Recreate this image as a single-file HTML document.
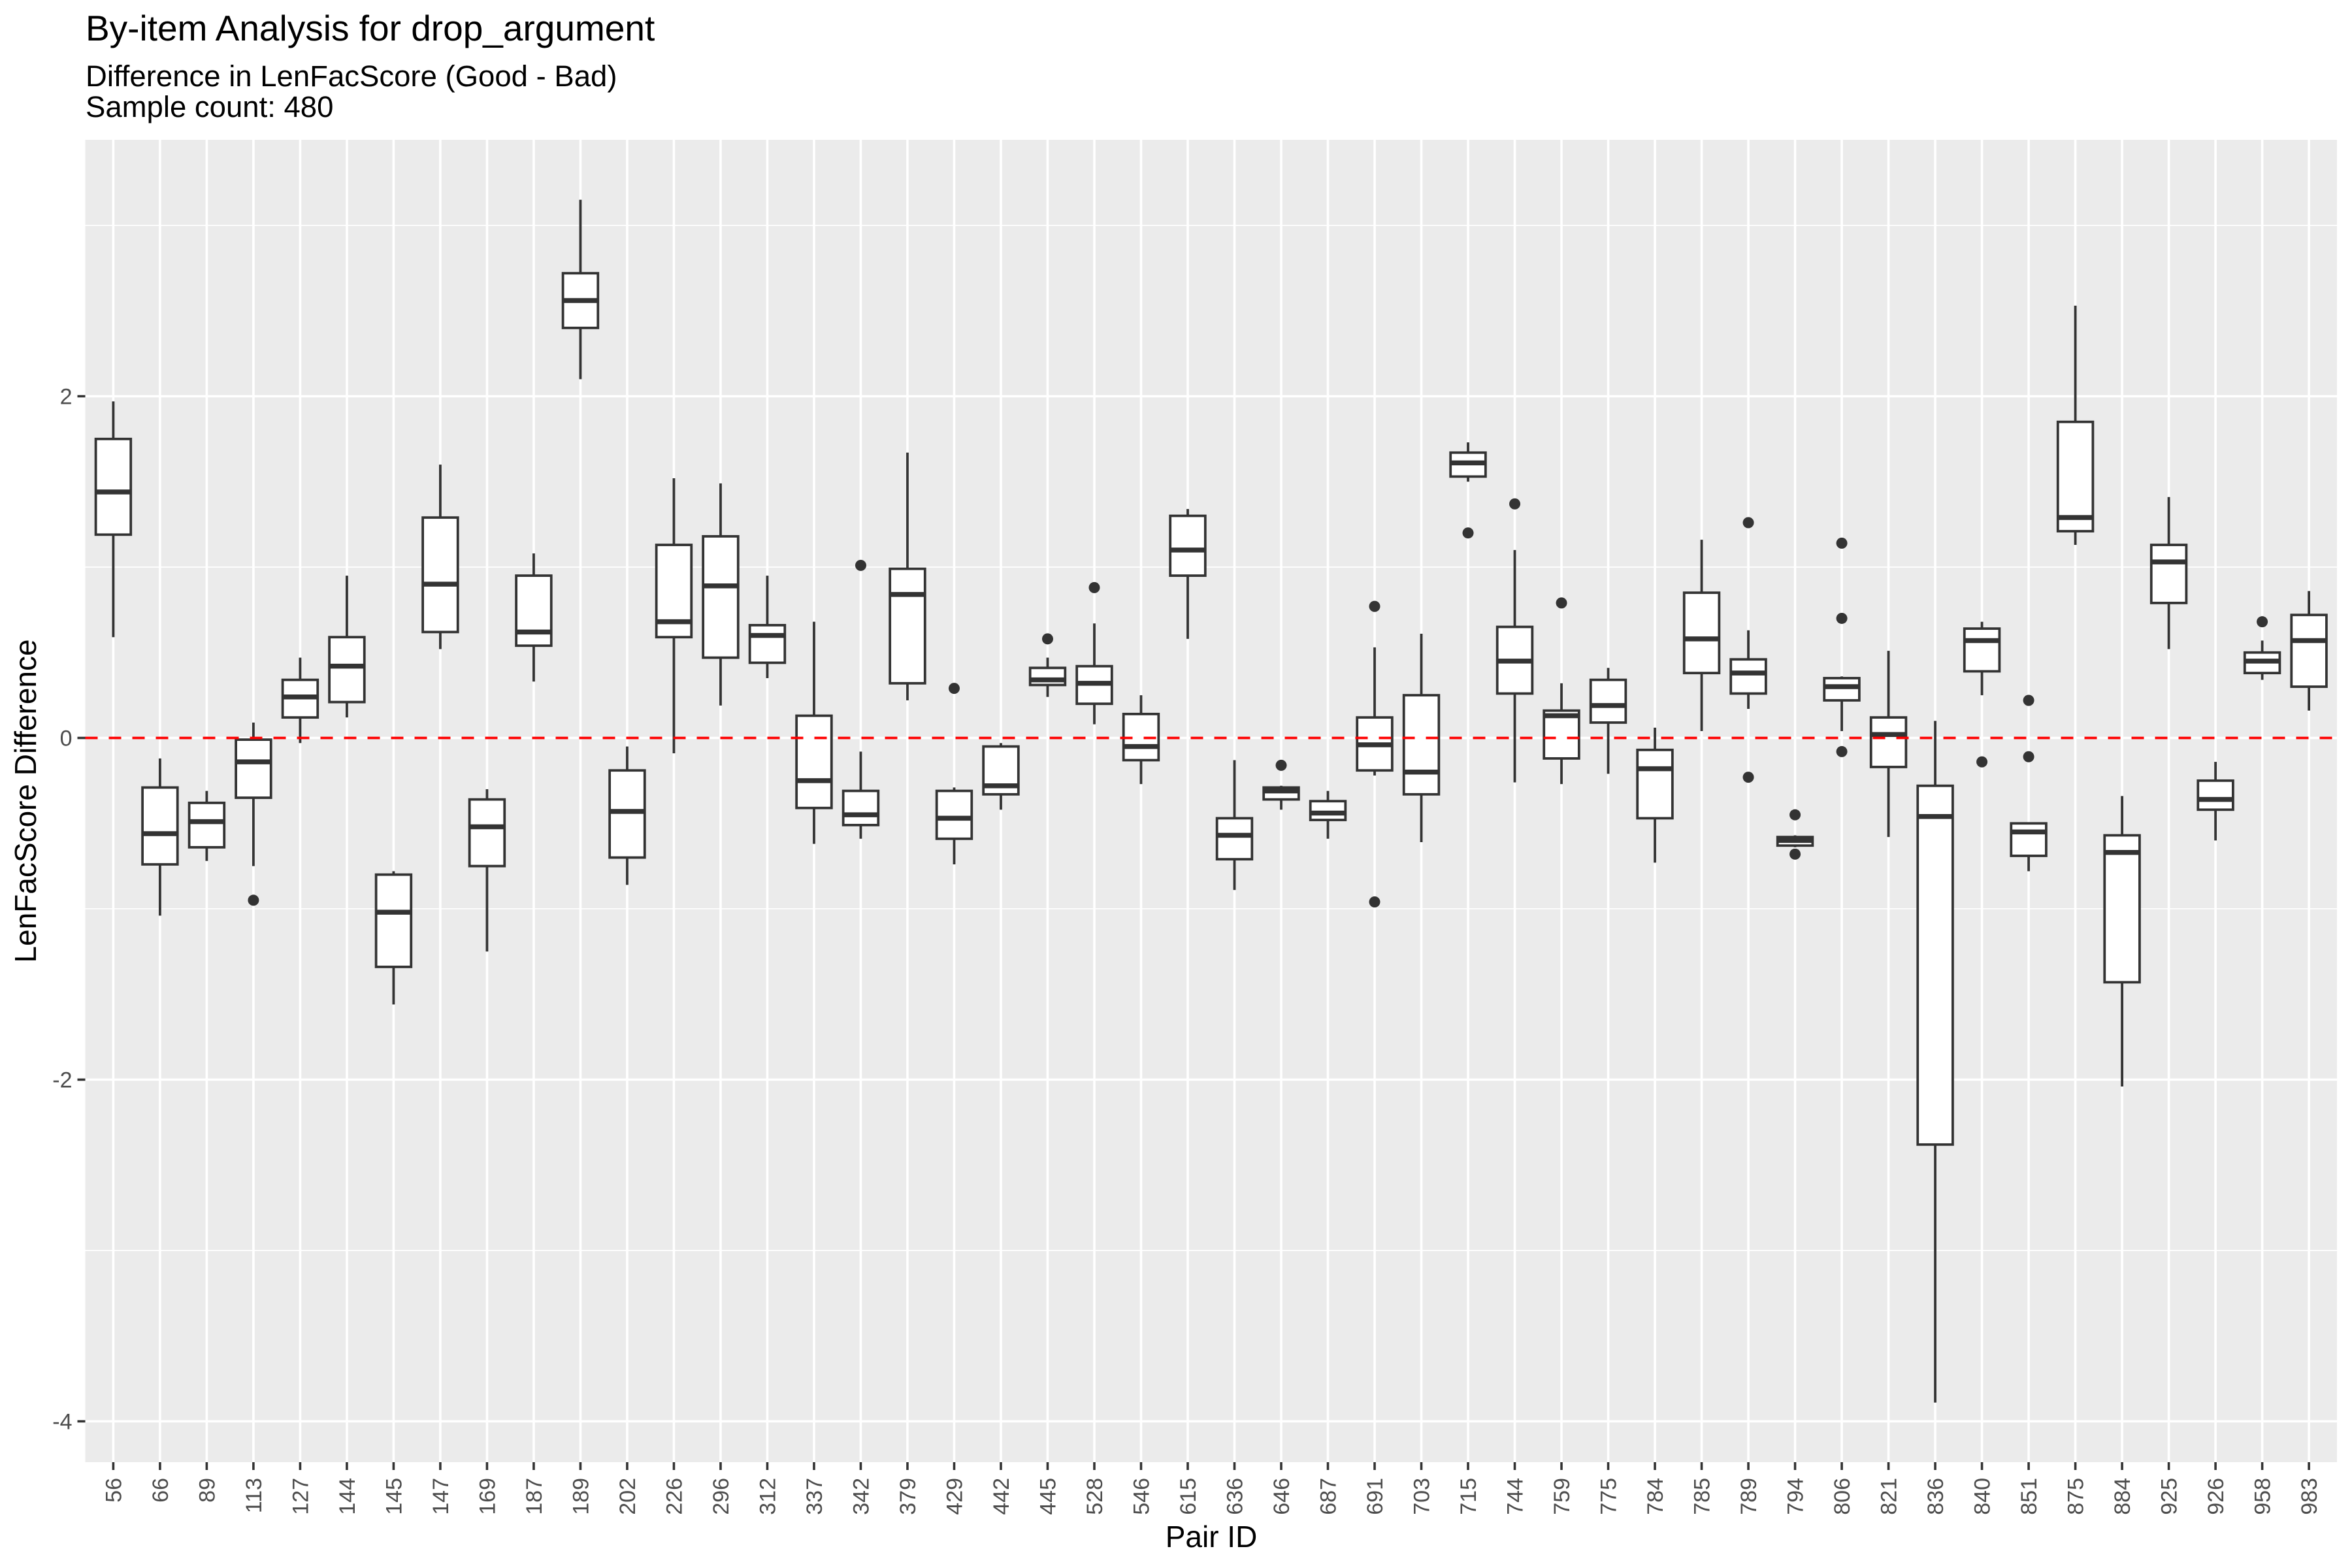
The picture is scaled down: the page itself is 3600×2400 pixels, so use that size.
<!DOCTYPE html>
<html><head><meta charset="utf-8">
<style>
html,body{margin:0;padding:0;background:#fff;}
svg{display:block;font-family:"Liberation Sans",Arial,sans-serif;}
</style></head>
<body>
<svg id="chart" xmlns="http://www.w3.org/2000/svg" width="3600" height="2400" viewBox="0 0 3600 2400">
<rect x="0" y="0" width="3600" height="2400" fill="#ffffff"/>
<text x="131" y="62" font-size="55" fill="#000">By-item Analysis for drop_argument</text>
<text x="131" y="132" font-size="45.5" fill="#000">Difference in LenFacScore (Good - Bad)</text>
<text x="131" y="179" font-size="45.5" fill="#000">Sample count: 480</text>
<g id="plot"></g>
<text x="1854" y="2368" font-size="46" text-anchor="middle" fill="#000">Pair ID</text>
<text transform="translate(55,1226) rotate(-90)" font-size="46" text-anchor="middle" fill="#000">LenFacScore Difference</text>
</svg>
<script>
const categories = ["56","66","89","113","127","144","145","147","169","187","189","202","226","296","312","337","342","379","429","442","445","528","546","615","636","646","687","691","703","715","744","759","775","784","785","789","794","806","821","836","840","851","875","884","925","926","958","983"];
const whiskerHigh = [1.97,-0.12,-0.31,0.09,0.47,0.95,-0.78,1.60,-0.30,1.08,3.15,-0.05,1.52,1.49,0.95,0.68,-0.08,1.67,-0.29,-0.03,0.47,0.67,0.25,1.34,-0.13,-0.28,-0.31,0.53,0.61,1.73,1.10,0.32,0.41,0.06,1.16,0.63,-0.57,0.36,0.51,0.10,0.68,-0.50,2.53,-0.34,1.41,-0.14,0.57,0.86];
const q3Values = [1.75,-0.29,-0.38,-0.01,0.34,0.59,-0.80,1.29,-0.36,0.95,2.72,-0.19,1.13,1.18,0.66,0.13,-0.31,0.99,-0.31,-0.05,0.41,0.42,0.14,1.30,-0.47,-0.29,-0.37,0.12,0.25,1.67,0.65,0.16,0.34,-0.07,0.85,0.46,-0.58,0.35,0.12,-0.28,0.64,-0.50,1.85,-0.57,1.13,-0.25,0.50,0.72];
const medianValues = [1.44,-0.56,-0.49,-0.14,0.24,0.42,-1.02,0.90,-0.52,0.62,2.56,-0.43,0.68,0.89,0.60,-0.25,-0.45,0.84,-0.47,-0.28,0.34,0.32,-0.05,1.10,-0.57,-0.31,-0.44,-0.04,-0.20,1.61,0.45,0.13,0.19,-0.18,0.58,0.38,-0.60,0.30,0.02,-0.46,0.57,-0.55,1.29,-0.67,1.03,-0.36,0.45,0.57];
const q1Values = [1.19,-0.74,-0.64,-0.35,0.12,0.21,-1.34,0.62,-0.75,0.54,2.40,-0.70,0.59,0.47,0.44,-0.41,-0.51,0.32,-0.59,-0.33,0.31,0.20,-0.13,0.95,-0.71,-0.36,-0.48,-0.19,-0.33,1.53,0.26,-0.12,0.09,-0.47,0.38,0.26,-0.63,0.22,-0.17,-2.38,0.39,-0.69,1.21,-1.43,0.79,-0.42,0.38,0.30];
const whiskerLow = [0.59,-1.04,-0.72,-0.75,-0.03,0.12,-1.56,0.52,-1.25,0.33,2.10,-0.86,-0.09,0.19,0.35,-0.62,-0.59,0.22,-0.74,-0.42,0.24,0.08,-0.27,0.58,-0.89,-0.42,-0.59,-0.22,-0.61,1.50,-0.26,-0.27,-0.21,-0.73,0.04,0.17,-0.64,0.04,-0.58,-3.89,0.25,-0.78,1.13,-2.04,0.52,-0.60,0.34,0.16];
const outlierCats = ["113","342","429","445","528","646","691","691","715","744","759","789","789","794","794","806","806","806","840","851","851","958"];
const outlierValues = [-0.95,1.01,0.29,0.58,0.88,-0.16,0.77,-0.96,1.20,1.37,0.79,1.26,-0.23,-0.45,-0.68,1.14,0.70,-0.08,-0.14,0.22,-0.11,0.68];
const yTicks = [2,0,-2,-4];
const yMinor = [3,1,-1,-3];

const NS = "http://www.w3.org/2000/svg";
const PL = 130.5, PR = 3577, PT = 214, PB = 2238;
const Y0 = 1129.5, UNIT = 261.5;
const XSTEP = (PR - PL) / (categories.length + 0.2);
function xPos(i){ return PL + (0.6 + i) * XSTEP; }
function yPos(v){ return Y0 - v * UNIT; }
function mk(tag, attrs, parent){
  const e = document.createElementNS(NS, tag);
  for (const k in attrs) e.setAttribute(k, attrs[k]);
  parent.appendChild(e);
  return e;
}
const g = document.getElementById('plot');
const panel = mk('rect', {x:PL, y:PT, width:PR-PL, height:PB-PT, fill:'#ebebeb'}, g);



yMinor.forEach(v => {
  const l = mk('line', {x1:PL, x2:PR, y1:yPos(v), y2:yPos(v), stroke:'#fff', 'stroke-width':1.8}, g);
  
  
});
yTicks.forEach(v => {
  const l = mk('line', {x1:PL, x2:PR, y1:yPos(v), y2:yPos(v), stroke:'#fff', 'stroke-width':3.6}, g);
  
  
  const t = mk('line', {x1:PL-12, x2:PL, y1:yPos(v), y2:yPos(v), stroke:'#333', 'stroke-width':3.6}, g);
  
  
  const lab = mk('text', {x:PL-20, y:yPos(v)+12, 'font-size':34, 'text-anchor':'end', fill:'#4d4d4d'}, g);
  lab.textContent = String(v);
  
  
});
categories.forEach((c, i) => {
  const x = xPos(i);
  const l = mk('line', {x1:x, x2:x, y1:PT, y2:PB, stroke:'#fff', 'stroke-width':3.6}, g);
  
  
  const t = mk('line', {x1:x, x2:x, y1:PB, y2:PB+12, stroke:'#333', 'stroke-width':3.6}, g);
  
  
  const lab = mk('text', {transform:`translate(${x+12},${PB+24}) rotate(-90)`, 'font-size':34, 'text-anchor':'end', fill:'#4d4d4d'}, g);
  lab.textContent = c;
  
  
});

const BW = 0.75 * XSTEP;
categories.forEach((c, i) => {
  const x = xPos(i);
  const grp = mk('g', {}, g);
  
  
  mk('line', {x1:x, x2:x, y1:yPos(whiskerHigh[i]), y2:yPos(q3Values[i]), stroke:'#333', 'stroke-width':3.8}, grp);
  mk('line', {x1:x, x2:x, y1:yPos(q1Values[i]), y2:yPos(whiskerLow[i]), stroke:'#333', 'stroke-width':3.8}, grp);
  mk('rect', {x:x-BW/2, y:yPos(q3Values[i]), width:BW, height:Math.max(0.5, yPos(q1Values[i])-yPos(q3Values[i])), fill:'#fff', stroke:'#333', 'stroke-width':3.8}, grp);
  mk('line', {x1:x-BW/2, x2:x+BW/2, y1:yPos(medianValues[i]), y2:yPos(medianValues[i]), stroke:'#333', 'stroke-width':7.5}, grp);
});
outlierCats.forEach((c, k) => {
  const i = categories.indexOf(c);
  const d = mk('circle', {cx:xPos(i), cy:yPos(outlierValues[k]), r:8.5, fill:'#333'}, g);
  
  
});
const ref = mk('line', {x1:PL, x2:PR, y1:yPos(0), y2:yPos(0), stroke:'#ff0000', 'stroke-width':3.8, 'stroke-dasharray':'19,17'}, g);


</script>
</body></html>
